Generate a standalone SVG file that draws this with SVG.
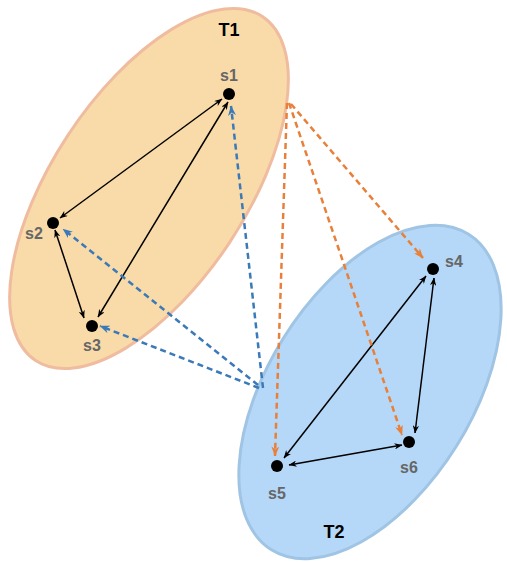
<svg xmlns="http://www.w3.org/2000/svg" width="507" height="562" viewBox="0 0 507 562">
  <style>
    .lbl { font-family: "Liberation Sans", Arial, sans-serif; font-weight: bold; font-size: 16px; fill: #666666; text-anchor: middle; }
    .tl { font-family: "Liberation Sans", Arial, sans-serif; font-weight: bold; font-size: 18px; fill: #000000; text-anchor: middle; }
    .dot { fill: #000000; }
    .blk { stroke: #000000; stroke-width: 1.5; fill: none; marker-start: url(#ab); marker-end: url(#ab); }
    .org { stroke: #e8803a; stroke-width: 2.5; stroke-dasharray: 6 4; fill: none; marker-end: url(#ao); }
    .blu { stroke: #3a7ab8; stroke-width: 2.5; stroke-dasharray: 6 4; fill: none; marker-end: url(#au); }
  </style>
  <defs>
    <marker id="ab" viewBox="0 0 10 8" refX="9.5" refY="4" markerWidth="8" markerHeight="6.4" markerUnits="userSpaceOnUse" orient="auto-start-reverse">
      <path d="M0,0 L10,4 L0,8 L3,4 z" fill="#000000"/>
    </marker>
    <marker id="ao" viewBox="0 0 10 8" refX="9.5" refY="4" markerWidth="10" markerHeight="8" markerUnits="userSpaceOnUse" orient="auto">
      <path d="M0,0 L10,4 L0,8 L3,4 z" fill="#e8803a"/>
    </marker>
    <marker id="au" viewBox="0 0 10 8" refX="9.5" refY="4" markerWidth="10" markerHeight="8" markerUnits="userSpaceOnUse" orient="auto">
      <path d="M0,0 L10,4 L0,8 L3,4 z" fill="#3a7ab8"/>
    </marker>
  </defs>

  <g id="T1">
    <ellipse cx="149" cy="188.5" rx="206" ry="97" transform="rotate(-56.6 149 188.5)" fill="#f9dba9" stroke="#f0bc9f" stroke-width="3"/>
    <text class="tl" x="229" y="36">T1</text>
  </g>
  <g id="T2">
    <ellipse cx="370" cy="392" rx="186" ry="102" transform="rotate(-58 370 392)" fill="#b5d8f8" stroke="#a0c4e4" stroke-width="3"/>
    <text class="tl" x="334" y="538">T2</text>
  </g>

  <g id="connectors">
    <line class="blk" x1="222" y1="99" x2="60" y2="218"/>
    <line class="blk" x1="228" y1="102" x2="98" y2="317"/>
    <line class="blk" x1="55" y1="230" x2="84" y2="318"/>
    <line class="blk" x1="426" y1="276" x2="284" y2="458"/>
    <line class="blk" x1="434" y1="278" x2="415" y2="433"/>
    <line class="blk" x1="289" y1="465" x2="402" y2="445"/>

    <line class="blu" x1="263" y1="388" x2="231" y2="106"/>
    <line class="blu" x1="258" y1="385" x2="63" y2="229"/>
    <line class="blu" x1="259" y1="388" x2="100" y2="326"/>

    <line class="org" x1="287" y1="103" x2="275" y2="456"/>
    <line class="org" x1="289" y1="103" x2="402" y2="435"/>
    <line class="org" x1="291" y1="104" x2="423" y2="258"/>
  </g>

  <g id="s1"><circle class="dot" cx="229" cy="94" r="6"/><text class="lbl" x="229" y="81">s1</text></g>
  <g id="s2"><circle class="dot" cx="53" cy="223" r="6"/><text class="lbl" x="34" y="239">s2</text></g>
  <g id="s3"><circle class="dot" cx="92" cy="326" r="6"/><text class="lbl" x="92" y="351">s3</text></g>
  <g id="s4"><circle class="dot" cx="433" cy="269" r="6"/><text class="lbl" x="454" y="267">s4</text></g>
  <g id="s5"><circle class="dot" cx="277" cy="466" r="6"/><text class="lbl" x="277" y="499">s5</text></g>
  <g id="s6"><circle class="dot" cx="409" cy="442" r="6"/><text class="lbl" x="409" y="473">s6</text></g>
</svg>
